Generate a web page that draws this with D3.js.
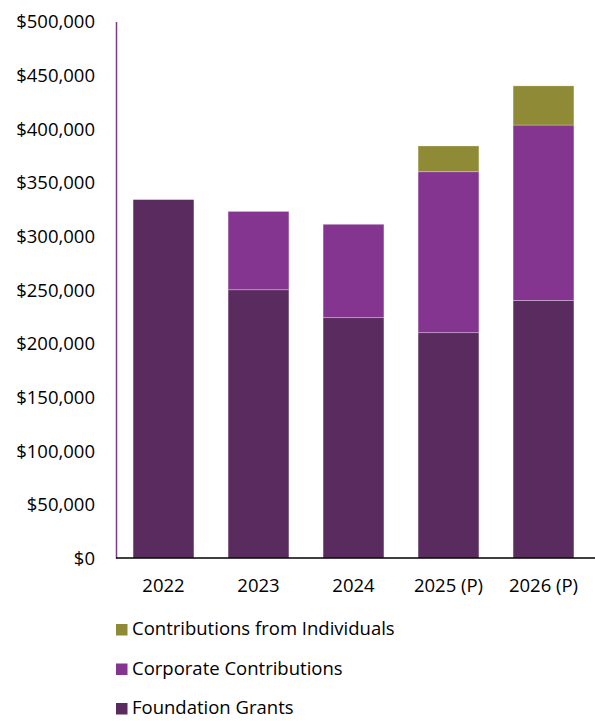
<!DOCTYPE html>
<html>
<head>
<meta charset="utf-8">
<script src="https://cdn.jsdelivr.net/npm/d3@7"></script>
<style>
  body { margin: 0; background: #fff; }
  text { font-family: "Open Sans", Lato, sans-serif; fill: #000; }
</style>
</head>
<body>
<script>
  // chart data
  let years = ["2022", "2023", "2024", "2025 (P)", "2026 (P)"];
  let foundationGrants = [334000, 250000, 224000, 210000, 240000];
  let corporateContributions = [0, 73000, 87000, 150000, 163500];
  let individualContributions = [0, 0, 0, 24000, 36500];
  let seriesNames = ["Foundation Grants", "Corporate Contributions", "Contributions from Individuals"];
  let seriesColors = ["#5a2b5e", "#84358f", "#8e8a35"];
  let yTicks = [0, 50000, 100000, 150000, 200000, 250000, 300000, 350000, 400000, 450000, 500000];

  window.onload = function() {
    let svg = d3.select('body')
      .append('svg')
      .attr('width', 595)
      .attr('height', 721);

    // build rows for the stack
    let rows = years.map((y, i) => ({
      year: y,
      "Foundation Grants": foundationGrants[i],
      "Corporate Contributions": corporateContributions[i],
      "Contributions from Individuals": individualContributions[i]
    }));
    let stacked = d3.stack().keys(seriesNames)(rows);

    let xScale = d3.scaleBand()
      .domain(years)
      .range([116, 591])
      .paddingInner(0.36)
      .paddingOuter(0.18);

    let yScale = d3.scaleLinear()
      .domain([0, 500000])
      .range([558, 21.5]);

    // bars
    svg.selectAll('.series')
      .data(stacked)
      .enter()
      .append('g')
      .attr('fill', (d, i) => seriesColors[i])
      .selectAll('rect')
      .data((d) => d.filter((s) => s[1] - s[0] > 0))
      .enter()
      .append('rect')
        .attr('x', (d) => xScale(d.data.year))
        .attr('y', (d) => yScale(d[1]))
        .attr('width', xScale.bandwidth())
        .attr('height', (d) => yScale(d[0]) - yScale(d[1]))
        .attr('stroke', '#ffffff')
        .attr('stroke-opacity', 0.35)
        .attr('stroke-width', 0.8);

    // y axis
    let yAxis = d3.axisLeft(yScale)
      .tickValues(yTicks)
      .tickSize(0)
      .tickPadding(21)
      .tickFormat((d) => '$' + d3.format(',')(d));
    let gy = svg.append('g')
      .attr('transform', 'translate(116, 0)')
      .call(yAxis);
    gy.select('.domain').attr('stroke', '#7b3b80').attr('stroke-width', 1.5);
    gy.selectAll('text').style('font-size', '18.5px').attr('dy', '0.35em');

    // x axis
    let xAxis = d3.axisBottom(xScale).tickSize(0).tickPadding(21);
    let gx = svg.append('g')
      .attr('transform', 'translate(0, 558)')
      .call(xAxis);
    gx.select('.domain').attr('stroke', '#000').attr('stroke-width', 1.5)
      .attr('d', 'M116,0H595');
    gx.selectAll('text').style('font-size', '18.5px');

    // legend (reverse order, top to bottom)
    let legendOrder = [2, 1, 0];
    let legend = svg.selectAll('.legend')
      .data(legendOrder)
      .enter()
      .append('g')
      .attr('transform', (d, i) => 'translate(116, ' + (629 + i * 39.5) + ')');
    legend.append('rect')
      .attr('x', 0)
      .attr('y', -5)
      .attr('width', 11.5)
      .attr('height', 11.5)
      .attr('fill', (d) => seriesColors[d]);
    legend.append('text')
      .attr('x', 16)
      .attr('y', 0)
      .attr('dy', '0.35em')
      .style('font-size', '18.5px')
      .text((d) => seriesNames[d]);
  }
</script>
</body>
</html>
